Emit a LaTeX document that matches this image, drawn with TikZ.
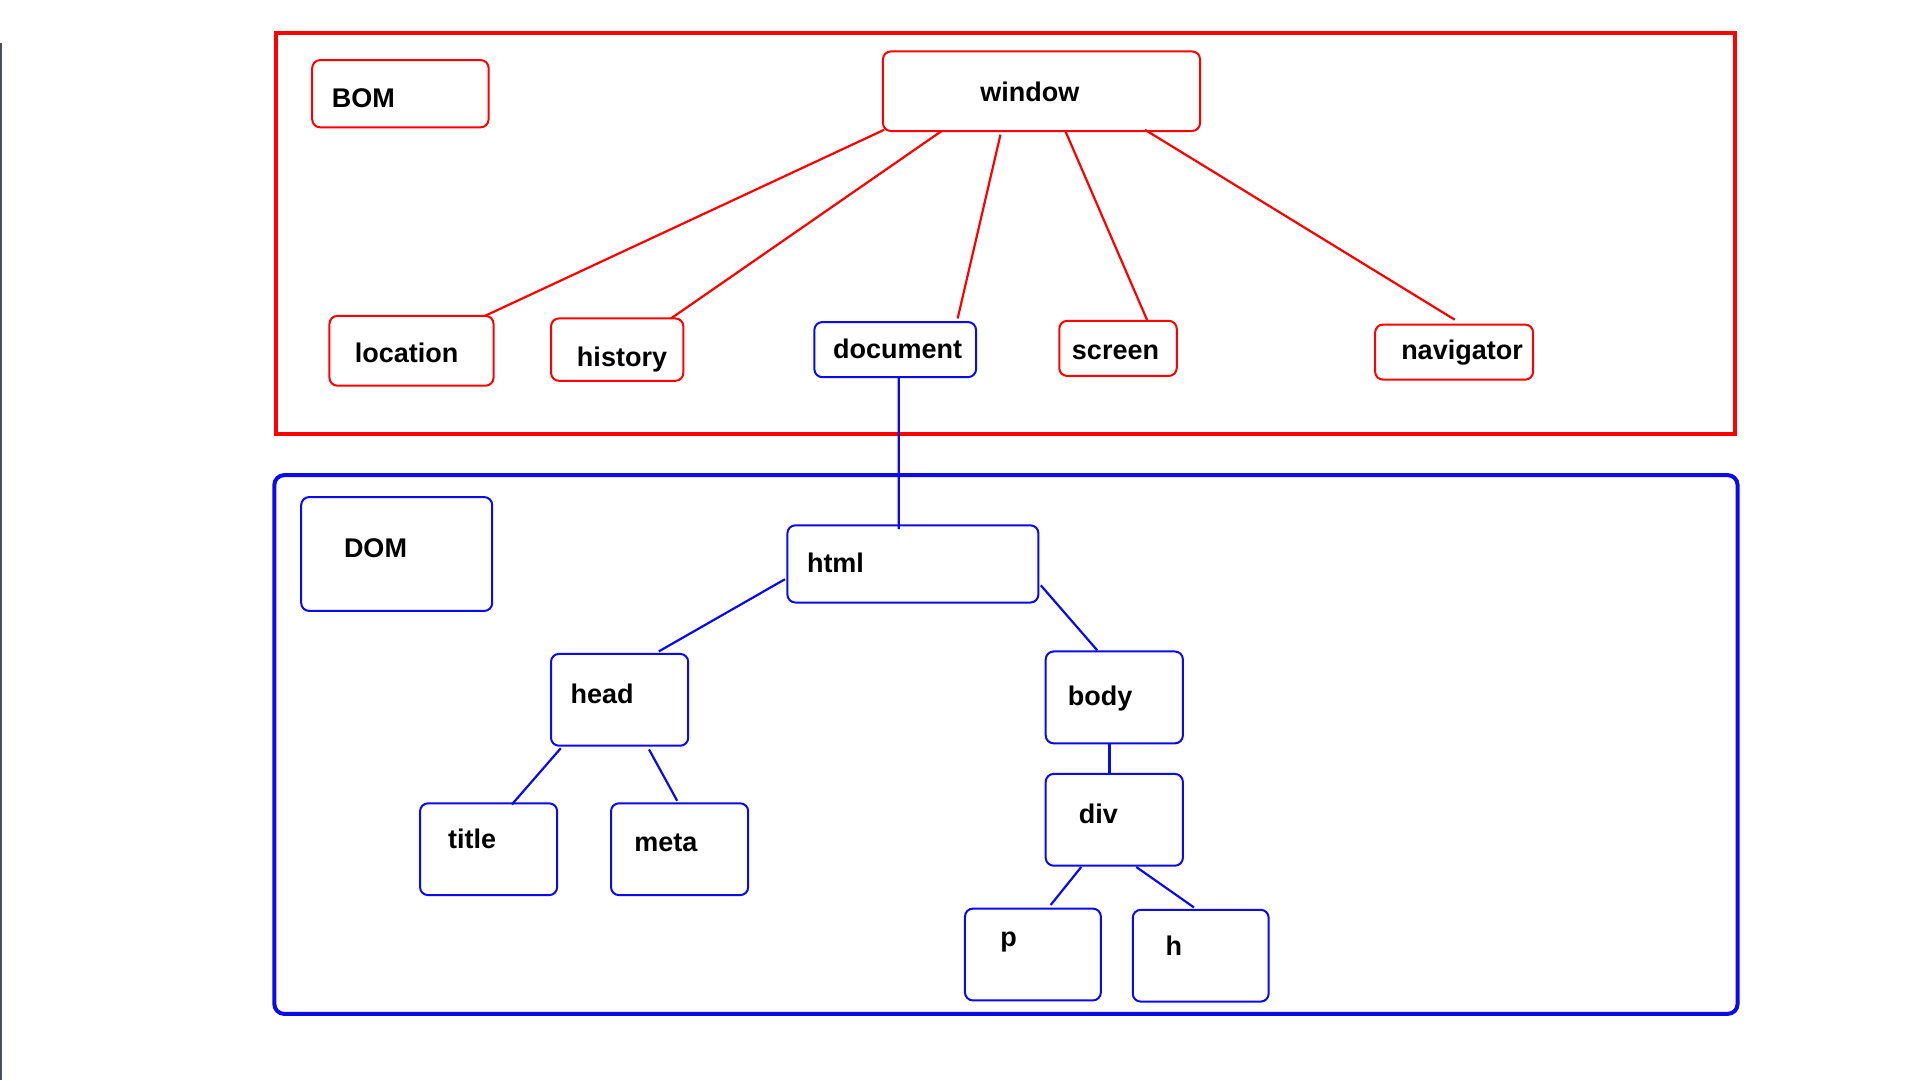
\documentclass[tikz,border=0pt]{standalone}
\usepackage{fontspec}
\setmainfont{Liberation Sans}
\definecolor{bomred}{RGB}{255,0,0}
\definecolor{domblue}{RGB}{10,10,235}
\definecolor{edgegray}{RGB}{74,80,85}
\begin{document}
\begin{tikzpicture}[x=1pt,y=-1pt,
  every node/.style={inner sep=0pt,outer sep=0pt},
  rbox/.style={draw=bomred,line width=2pt,rounded corners=8pt,rectangle},
  bbox/.style={draw=domblue,line width=2pt,rounded corners=8pt,rectangle},
  lbl/.style={font=\fontsize{27}{32}\selectfont\bfseries,text=black},
  redlink/.style={draw=bomred,line width=2.2pt},
  bluelink/.style={draw=domblue,line width=2.2pt}]
\useasboundingbox (0,0) rectangle (1920,1080);
\fill[white] (0,0) rectangle (1920,1080);
\draw[edgegray,line width=2pt] (1,43) coordinate (eg1) -- (1,1080) coordinate (eg2);

% group frames
\draw[bomred,line width=4pt] (275.6,33.1) rectangle (1735.2,433.5);
\draw[domblue,line width=4pt,rounded corners=10pt] (274.3,475.1) rectangle (1737.6,1013.9);

% BOM boxes
\node[rbox,minimum width=176.4pt,minimum height=67.3pt] (bom) at (400.4,93.7) {};
\node[rbox,minimum width=317.1pt,minimum height=79.6pt] (window) at (1041.5,91.2) {};
\node[rbox,minimum width=164.1pt,minimum height=69.8pt] (location) at (411.5,350.8) {};
\node[rbox,minimum width=132.3pt,minimum height=62.4pt] (history) at (617.2,349.6) {};
\node[bbox,minimum width=161.7pt,minimum height=55.1pt] (document) at (895.2,349.6) {};
\node[rbox,minimum width=117.5pt,minimum height=55.1pt] (screen) at (1118,348.4) {};
\node[rbox,minimum width=158pt,minimum height=55.1pt] (navigator) at (1454.1,352.1) {};

\node[lbl,anchor=base west] (bom-t) at (331.8,107.5) {BOM};
\node[lbl,anchor=base] (window-t) at (1029.8,101.8) {window};
\node[lbl,anchor=base] (location-t) at (406.5,362.7) {location};
\node[lbl,anchor=base] (history-t) at (622,366) {history};
\node[lbl,anchor=base] (document-t) at (897.6,358) {document};
\node[lbl,anchor=base] (screen-t) at (1115.5,359) {screen};
\node[lbl,anchor=base] (navigator-t) at (1462,359) {navigator};

% DOM boxes
\node[bbox,minimum width=191pt,minimum height=113.9pt] (dom) at (396.7,554) {};
\node[bbox,minimum width=251pt,minimum height=77.2pt] (html) at (912.9,563.9) {};
\node[bbox,minimum width=137.2pt,minimum height=91.8pt] (head) at (619.6,699.8) {};
\node[bbox,minimum width=137.2pt,minimum height=91.9pt] (body) at (1114.3,697.4) {};
\node[bbox,minimum width=137.1pt,minimum height=91.8pt] (title) at (488.6,849.2) {};
\node[bbox,minimum width=137.2pt,minimum height=91.8pt] (meta) at (679.6,849.2) {};
\node[bbox,minimum width=137.2pt,minimum height=91.8pt] (div) at (1114.3,819.8) {};
\node[bbox,minimum width=135.9pt,minimum height=91.8pt] (p) at (1032.9,954.5) {};
\node[bbox,minimum width=135.9pt,minimum height=91.8pt] (h) at (1200.7,955.7) {};

\node[lbl,anchor=base west] (dom-t) at (344,557.4) {DOM};
\node[lbl,anchor=base west] (html-t) at (807,572) {html};
\node[lbl,anchor=base west] (head-t) at (570.6,703) {head};
\node[lbl,anchor=base west] (body-t) at (1067.8,705) {body};
\node[lbl,anchor=base west] (title-t) at (448.2,848.8) {title};
\node[lbl,anchor=base west] (meta-t) at (634.3,851) {meta};
\node[lbl,anchor=base west] (div-t) at (1078.8,823) {div};
\node[lbl,anchor=base west] (p-t) at (1000.4,946) {p};
\node[lbl,anchor=base west] (h-t) at (1165.7,955) {h};

% window links
\draw[redlink] ([shift={(1.2,-1.2)}]window.south west) -- ([shift={(155.5,0)}]location.north west);
\draw[redlink] ([shift={(58.7,0)}]window.south west) -- ([shift={(120,0)}]history.north west);
\draw[redlink] ([shift={(117.5,3.7)}]window.south west) -- ([shift={(143.3,-3.6)}]document.north west);
\draw[redlink] ([shift={(182.4,0)}]window.south west) -- ([shift={(88.2,0)}]screen.north west);
\draw[redlink] ([shift={(262.1,-1.2)}]window.south west) -- ([shift={(79.6,-4.9)}]navigator.north west);

% DOM tree links
\draw[bluelink] ([shift={(3.6,0)}]document.south) -- ([shift={(111.4,3.7)}]html.north west);
\draw[bluelink] ([shift={(-2.4,53.9)}]html.north west) -- ([shift={(107.8,-2.5)}]head.north west);
\draw[bluelink] ([shift={(2.4,60)}]html.north east) -- ([shift={(51.5,-1.2)}]body.north west);
\draw[bluelink] ([shift={(9.8,2.5)}]head.south west) -- ([shift={(91.8,1.2)}]title.north west);
\draw[bluelink] ([shift={(98,3.7)}]head.south west) -- ([shift={(66.2,-2.5)}]meta.north west);
\draw[bluelink] ([shift={(63.7,0)}]body.south west) -- ([shift={(63.7,0)}]div.north west);
\draw[bluelink] ([shift={(35.5,1.3)}]div.south west) -- ([shift={(85.7,-3.6)}]p.north west);
\draw[bluelink] ([shift={(90.6,1.3)}]div.south west) -- ([shift={(61.2,-2.4)}]h.north west);
\end{tikzpicture}
\end{document}
